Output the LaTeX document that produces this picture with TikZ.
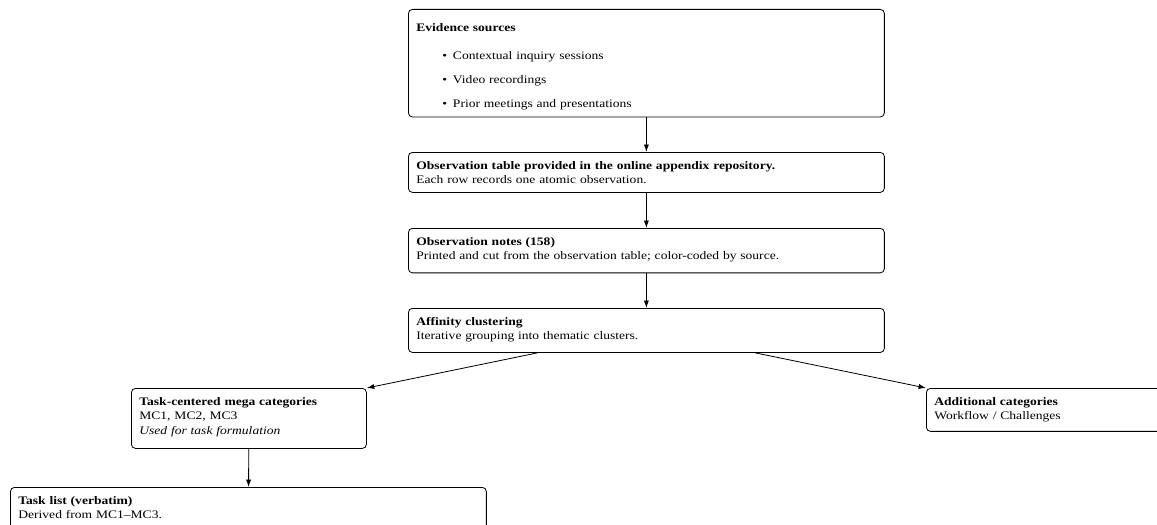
\documentclass[tikz,border=0pt]{standalone}
\usepackage{fontspec}
\setmainfont{Liberation Serif}[FakeStretch=1.18]
\usetikzlibrary{arrows.meta}
\begin{document}
\begin{tikzpicture}[x=0.74pt,y=-0.74pt,
  box/.style={draw, line width=0.6pt, rounded corners=3pt, anchor=north west,
    text width=340.4pt, inner xsep=5.9pt, inner ysep=0pt, align=left,
    text height=12.9pt, font=\fontsize{8.5pt}{10.45pt}\selectfont},
  smallbox/.style={box, text width=162.1pt},
  arr/.style={-{Latex[length=5.5pt,width=3.8pt]}, line width=0.6pt}]
\useasboundingbox (0,0) rectangle (1157,525);
\clip (0,0) rectangle (1157,525);

\node[box, text height=16pt, text depth=63.6pt] (ev) at (408,9)
  {\textbf{Evidence sources}\\[10.65pt]
   \hspace*{19.2pt}\makebox[7.9pt][l]{\textbullet}Contextual inquiry sessions\\[7.35pt]
   \hspace*{19.2pt}\makebox[7.9pt][l]{\textbullet}Video recordings\\[7.35pt]
   \hspace*{19.2pt}\makebox[7.9pt][l]{\textbullet}Prior meetings and presentations};

\node[box, text depth=16.7pt] (obs) at (408,152)
  {\textbf{Observation table provided in the online appendix repository.}\\
   Each row records one atomic observation.};

\node[box, text depth=20pt] (notes) at (408,228)
  {\textbf{Observation notes (158)}\\
   Printed and cut from the observation table; color-coded by source.};

\node[box, text depth=19.7pt] (aff) at (408,308)
  {\textbf{Affinity clustering}\\
   Iterative grouping into thematic clusters.};

\node[smallbox, text depth=31.5pt] (mega) at (131,388)
  {\textbf{Task-centered mega categories}\\
   MC1, MC2, MC3\\
   \textit{Used for task formulation}};

\node[box, text depth=18.9pt] (add) at (926,388)
  {\textbf{Additional categories}\\
   Workflow / Challenges};

\node[box, text depth=40pt] (task) at (10,487)
  {\textbf{Task list (verbatim)}\\
   Derived from MC1--MC3.};

\draw[arr] (ev) -- (obs);
\draw[arr] (obs) -- (notes);
\draw[arr] (notes) -- (aff);
\draw[arr] (aff) -- (mega.north east);
\draw[arr] (aff) -- (add.north west);
\draw[arr] (mega) -- (task);
\end{tikzpicture}
\end{document}
